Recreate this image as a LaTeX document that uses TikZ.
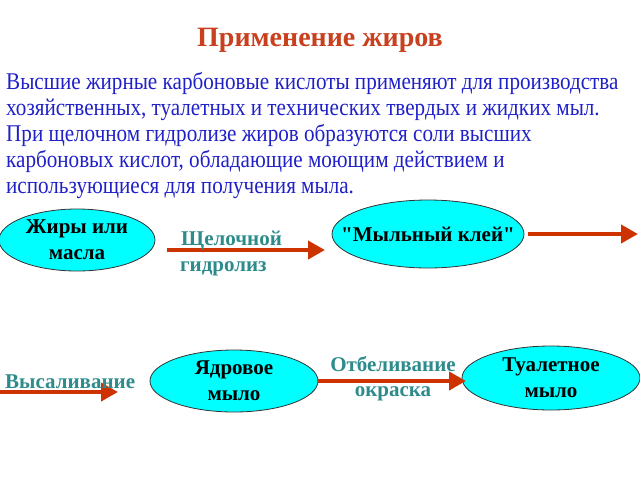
\documentclass[tikz,border=0pt]{standalone}
\usepackage{fontspec}
\setmainfont{Liberation Serif}
\newfontfamily\bodyfont[FakeStretch=0.88]{Liberation Serif}
\newfontfamily\qfont{Liberation Serif}
\usetikzlibrary{shapes.geometric,arrows.meta}
\definecolor{titlecol}{HTML}{C8401E}
\definecolor{bodycol}{HTML}{2020C8}
\definecolor{labcol}{HTML}{2E8B8B}
\definecolor{arrcol}{HTML}{CC3300}
\definecolor{cyanfill}{HTML}{00FFFF}
\begin{document}
\begin{tikzpicture}[x=1pt,y=-1pt,
  oval/.style={ellipse,draw=black!80,line width=0.8pt,fill=cyanfill,inner sep=0pt,
    align=center,font=\fontsize{21}{26}\selectfont\bfseries},
  lab/.style={text=labcol,font=\fontsize{21}{26}\selectfont\bfseries,inner sep=0pt},
  arr/.style={draw=arrcol,line width=4pt,-{Triangle[length=17pt,width=18pt]}},
  bodyline/.style={anchor=base west,text=bodycol,inner sep=0pt,font=\bodyfont\fontsize{24}{26}\selectfont}]
\useasboundingbox (0,0) rectangle (640,480);
\node[text=titlecol,font=\fontsize{28}{32}\selectfont\bfseries,inner sep=0pt,anchor=base] (title) at (320,46) {Применение жиров};
\node[bodyline] (l1) at (6,89) {Высшие жирные карбоновые кислоты применяют для производства};
\node[bodyline] (l2) at (6,115) {хозяйственных, туалетных и технических твердых и жидких мыл.};
\node[bodyline] (l3) at (6,141) {При щелочном гидролизе жиров образуются соли высших};
\node[bodyline] (l4) at (6,167) {карбоновых кислот, обладающие моющим действием и};
\node[bodyline] (l5) at (6,193) {использующиеся для получения мыла.};

\node[oval,minimum width=156pt,minimum height=62pt] (fat) at (77,240) {Жиры или\\масла};
\node[oval,minimum width=192pt,minimum height=68pt,inner xsep=-40pt] (glue) at (428,234) {\qfont\bfseries "Мыльный клей"};
\node[oval,minimum width=168pt,minimum height=62pt] (core) at (234,381) {Ядровое\\мыло};
\node[oval,minimum width=178pt,minimum height=64pt] (toilet) at (551,378) {Туалетное\\мыло};

\coordinate (a1s) at (167,250);
\coordinate (a1e) at (325,250);
\coordinate (a2s) at (528,234);
\coordinate (a2e) at (638,234);
\coordinate (a3s) at (0,392);
\coordinate (a3e) at (118,392);
\coordinate (a4s) at (318,381);
\coordinate (a4e) at (466,381);
\draw[arr] (a1s) -- (a1e);
\draw[arr] (a2s) -- (a2e);
\draw[arr] (a3s) -- (a3e);
\draw[arr] (a4s) -- (a4e);

\node[lab,anchor=base west] (l-a) at (181,245) {Щелочной};
\node[lab,anchor=base west] (l-b) at (180,271) {гидролиз};
\node[lab,anchor=base west] (l-c) at (5,388) {Высаливание};
\node[lab,anchor=base] (l-d) at (393,371) {Отбеливание};
\node[lab,anchor=base] (l-e) at (393,396) {окраска};
\end{tikzpicture}
\end{document}
